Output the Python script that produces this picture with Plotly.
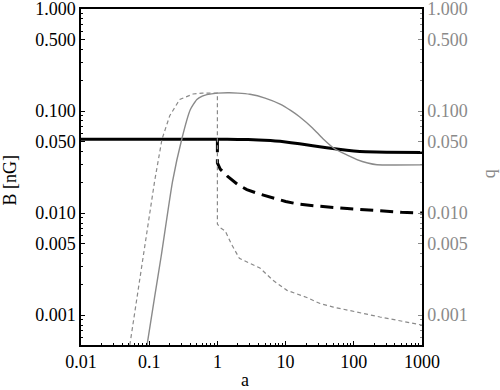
import plotly.graph_objects as go
import numpy as np

# ---- data ----
a_B_solid = [0.01, 0.1, 1, 2, 4, 6, 8.3, 12, 16, 25, 40, 60, 100, 150, 300, 1000]
B_solid = [0.053, 0.053, 0.053, 0.0528, 0.0522, 0.0515, 0.0505, 0.049, 0.0478, 0.0458, 0.0438, 0.0422, 0.0407, 0.0400, 0.0395, 0.0393]

a_B_dashed = [1.0, 1.0, 1.1, 1.4, 2.0, 2.7, 4, 6.5, 10, 15, 30, 80, 200, 500, 1000]
B_dashed = [0.053, 0.031, 0.027, 0.023, 0.019, 0.017, 0.0155, 0.014, 0.013, 0.0123, 0.0117, 0.0111, 0.0106, 0.0102, 0.0100]

a_q_solid = [0.093, 0.12, 0.15, 0.22, 0.3, 0.4, 0.5, 0.6, 0.7, 1, 1.5, 2, 3, 5, 8.3, 12, 16, 25, 35, 53, 80, 111, 160, 219, 400, 1000]
q_solid = [0.00051, 0.0015, 0.0038, 0.0205, 0.053, 0.103, 0.13, 0.14, 0.145, 0.15, 0.151, 0.15, 0.146, 0.134, 0.117, 0.101, 0.088, 0.068, 0.054, 0.0425, 0.037, 0.0335, 0.031, 0.0298, 0.0296, 0.0297]

a_q_dashed = [0.052, 0.08, 0.12, 0.154, 0.2, 0.28, 0.44, 0.6, 1.0, 1.0, 1.05, 1.1, 1.3, 1.6, 2.1, 3, 4.2, 6.5,
              10.5, 20, 32, 50, 79, 136, 242, 340, 600, 1000]
q_dashed = [0.00051, 0.0033, 0.0205, 0.053, 0.09, 0.13, 0.147, 0.15, 0.15, 0.0078, 0.0075, 0.0072, 0.0067, 0.005,
            0.0036, 0.0032, 0.0029, 0.0022, 0.00175, 0.0015, 0.0013, 0.0012, 0.00112, 0.00104, 0.00096, 0.00092,
            0.00086, 0.0008]

x_tickvals = [0.01, 0.1, 1, 10, 100, 1000]
x_ticktext = ["0.01", "0.1", "1", "10", "100", "1000"]
y_tickvals = [0.001, 0.005, 0.01, 0.05, 0.1, 0.5, 1]
y_ticktext = ["0.001", "0.005", "0.010", "0.050", "0.100", "0.500", "1.000"]

GRAY = "#8a8a8a"
FONT = "Liberation Serif, Times New Roman, DejaVu Serif, serif"

x_minor = [m * 10.0 ** e for e in range(-2, 3) for m in range(2, 10)]
y_minor = [m * 10.0 ** e for e in range(-4, 0) for m in range(2, 10)]

fig = go.Figure()
fig.add_trace(go.Scatter(x=a_q_dashed, y=q_dashed, mode="lines", yaxis="y2",
                         line=dict(color=GRAY, width=1.2, dash="4px,3px")))
fig.add_trace(go.Scatter(x=a_q_solid, y=q_solid, mode="lines", yaxis="y2",
                         line=dict(color=GRAY, width=1.4, shape="spline", smoothing=0.5)))
fig.add_trace(go.Scatter(x=a_B_solid, y=B_solid, mode="lines",
                         line=dict(color="black", width=3, shape="spline", smoothing=0.5)))
fig.add_trace(go.Scatter(x=a_B_dashed, y=B_dashed, mode="lines",
                         line=dict(color="black", width=3, dash="13px,7px")))

yr = [np.log10(0.00051), 0.0004]
fig.update_layout(
    width=500, height=390,
    margin=dict(l=81, r=78, t=9, b=45),
    paper_bgcolor="white", plot_bgcolor="white",
    showlegend=False,
    font=dict(family=FONT, size=18, color="black"),
    xaxis=dict(type="log", range=[-2, 3], tickmode="array", tickvals=x_tickvals, ticktext=x_ticktext,
               ticks="inside", ticklen=4, tickwidth=1, tickcolor="black", automargin=False,
               showline=True, linecolor="black", linewidth=1.5, mirror=True,
               showgrid=False, zeroline=False,
               minor=dict(tickmode="array", tickvals=x_minor, ticks="inside", ticklen=2, tickcolor="black", showgrid=False)),
    yaxis=dict(type="log", range=yr, tickmode="array", tickvals=y_tickvals, ticktext=y_ticktext,
               ticks="inside", ticklen=4, tickwidth=1, tickcolor="black", ticklabeloverflow="allow",
               automargin=False,
               showline=True, linecolor="black", linewidth=1.5,
               showgrid=False, zeroline=False,
               minor=dict(tickmode="array", tickvals=y_minor, ticks="inside", ticklen=2, tickcolor="black", showgrid=False)),
    yaxis2=dict(type="log", range=yr, overlaying="y", side="right", tickmode="array",
                tickvals=y_tickvals, ticktext=y_ticktext, tickfont=dict(color=GRAY), ticklabeloverflow="allow",
                automargin=False,
                ticks="inside", ticklen=4, tickwidth=1, tickcolor=GRAY,
                showline=True, linecolor="black", linewidth=1.5,
                showgrid=False, zeroline=False,
                minor=dict(tickmode="array", tickvals=y_minor, ticks="inside", ticklen=2, tickcolor=GRAY, showgrid=False)),
    annotations=[
        dict(text="B [nG]", xref="paper", yref="paper", x=-0.208, y=0.49, textangle=-90,
             showarrow=False, font=dict(size=18, color="black"), xanchor="center", yanchor="middle"),
        dict(text="q", xref="paper", yref="paper", x=1.195, y=0.51, textangle=-90,
             showarrow=False, font=dict(size=18, color=GRAY), xanchor="center", yanchor="middle"),
        dict(text="a", xref="paper", yref="paper", x=0.48, y=-0.105, showarrow=False,
             font=dict(size=18, color="black"), xanchor="center", yanchor="middle"),
    ],
)
fig.write_html("out.html", config={"displayModeBar": False},
               post_script="document.body.style.margin='0px';")
